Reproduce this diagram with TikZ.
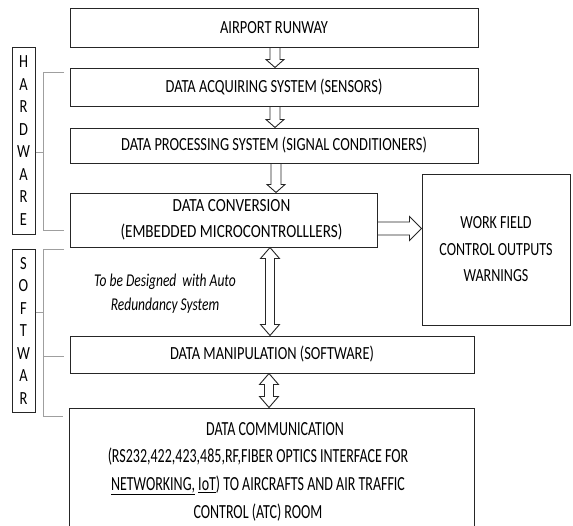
\documentclass[tikz,border=0pt]{standalone}
\usepackage{fontspec}
\setmainfont[FakeStretch=0.78]{Carlito}
\newfontfamily\convfont[FakeStretch=0.82]{Carlito}
\newfontfamily\workfont[FakeStretch=0.76]{Carlito}
\newfontfamily\commfont[FakeStretch=0.70]{Carlito}
\newfontfamily\notefont[FakeStretch=0.75]{Carlito}
\usetikzlibrary{calc}
\newcommand\downarr[3]{\draw[arr] let \p1=(#1.south), \p2=(#2.north) in
  (#3pt-5pt,\y1) -- (#3pt-5pt,\y2+8pt) -- (#3pt-9pt,\y2+8pt) -- (#3pt,\y2)
  -- (#3pt+9pt,\y2+8pt) -- (#3pt+5pt,\y2+8pt) -- (#3pt+5pt,\y1);}
\newcommand\dblarr[3]{\draw[arr] let \p1=(#1.south), \p2=(#2.north) in
  (#3pt,\y1) -- (#3pt+9.5pt,\y1-11pt) -- (#3pt+4.5pt,\y1-11pt) -- (#3pt+4.5pt,\y2+11pt)
  -- (#3pt+9.5pt,\y2+11pt) -- (#3pt,\y2) -- (#3pt-9.5pt,\y2+11pt) -- (#3pt-4.5pt,\y2+11pt)
  -- (#3pt-4.5pt,\y1-11pt) -- (#3pt-9.5pt,\y1-11pt) -- cycle;}
\newcommand\rarr[3]{\draw[arr] let \p1=(#1.east), \p2=(#2.west) in
  (\x1,#3pt+6.5pt) -- (\x2-12pt,#3pt+6.5pt) -- (\x2-12pt,#3pt+12pt) -- (\x2,#3pt)
  -- (\x2-12pt,#3pt-12pt) -- (\x2-12pt,#3pt-6.5pt) -- (\x1,#3pt-6.5pt);}
\begin{document}
\begin{tikzpicture}[x=1pt,y=1pt,
  box/.style={draw=black!85, line width=1pt, rectangle, inner sep=0pt,
    font=\fontsize{18.5}{26.5}\selectfont, align=center},
  arr/.style={draw=black!85, line width=0.9pt, line join=miter},
  brk/.style={draw=gray!75, line width=0.9pt},
  side/.style={draw=black!85, line width=1pt, inner sep=0pt, minimum width=23,
    font=\fontsize{18.5}{22.5}\selectfont, align=center}]
\useasboundingbox (0,0) rectangle (573,-525);
\clip (0,0) rectangle (573,-525);
\fill[white] (0,0) rectangle (573,-525);
% main boxes
\node[box, minimum width=408, minimum height=39] (runway) at (274,-27.5) {AIRPORT RUNWAY};
\node[box, minimum width=408, minimum height=38] (acq) at (274,-87) {DATA ACQUIRING SYSTEM (SENSORS)};
\node[box, minimum width=408, minimum height=35] (proc) at (274,-145.5) {DATA PROCESSING SYSTEM (SIGNAL CONDITIONERS)};
\node[box, minimum width=307, minimum height=54, font=\fontsize{18.5}{26.5}\selectfont\convfont] (conv) at (223.5,-220) {\hspace*{16pt}DATA CONVERSION\\\hspace*{16pt}(EMBEDDED MICROCONTROLLLERS)};
\node[box, minimum width=148, minimum height=151, font=\fontsize{18.5}{26.5}\selectfont\workfont] (work) at (496,-249.5) {WORK FIELD\\CONTROL OUTPUTS\\WARNINGS};
\node[box, minimum width=404, minimum height=37] (manip) at (272,-354.5) {DATA MANIPULATION (SOFTWARE)};
\node[box, minimum width=405, minimum height=126] (comm) at (271.5,-471) {};
\node[font=\fontsize{20}{27.7}\selectfont\commfont, align=center, inner sep=0pt] (commtext) at (258,-471.5)
  {\hspace*{34pt}DATA COMMUNICATION\\(RS232,422,423,485,RF,FIBER OPTICS INTERFACE FOR\\\underline{NETWORKING,} \underline{IoT}) TO AIRCRAFTS AND AIR TRAFFIC\\CONTROL (ATC) ROOM};
\node[font=\fontsize{18}{24}\selectfont\notefont\itshape, align=center, inner sep=0pt] (note) at (165,-294)
  {To be Designed\, with Auto\\Redundancy System};
% side labels
\node[side, minimum height=187] (hw) at (23.5,-140.5) {H\\A\\R\\D\\W\\A\\R\\E};
\node[side, minimum height=163] (sw) at (23.5,-330.5) {S\\O\\F\\T\\W\\A\\R};
% brackets
\draw[brk] (64,-72) -- (43,-72) -- (43,-230) -- (64,-230);
\draw[brk] (hw.east |- 0,-152) -- (43,-152);
\draw[brk] (64,-249) -- (43,-249) -- (43,-416) -- (63,-416);
\draw[brk] (sw.east |- 0,-312) -- (43,-312);
\draw[brk] (43,-356) -- (64,-356);
% arrows
\downarr{runway}{acq}{275}
\downarr{acq}{proc}{275}
\downarr{proc}{conv}{276}
\dblarr{conv}{manip}{270}
\dblarr{manip}{comm}{269}
\rarr{conv}{work}{-228.5}
\end{tikzpicture}
\end{document}
